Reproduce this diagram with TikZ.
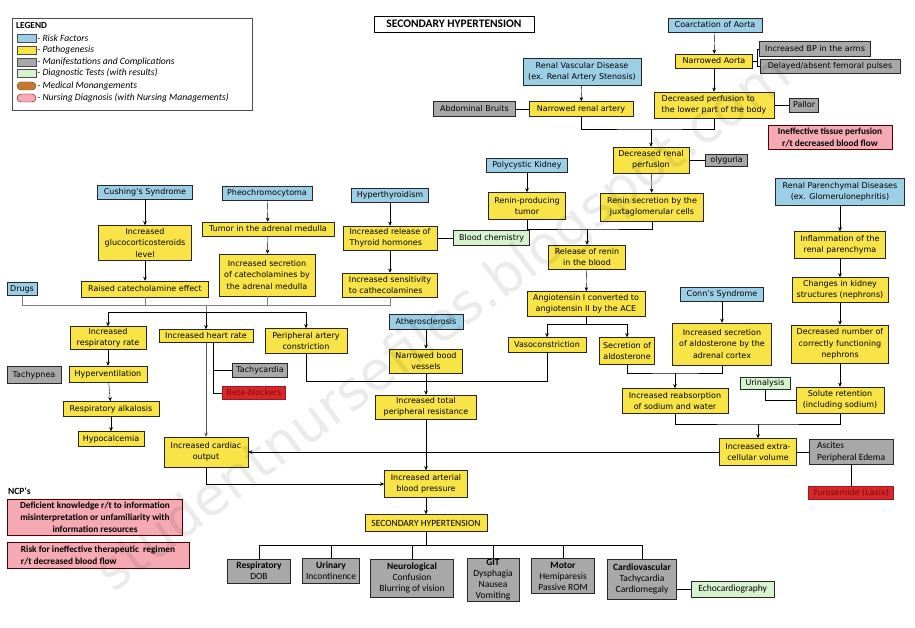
\documentclass[tikz,border=0pt]{standalone}
\usepackage{fontspec}
\setmainfont{DejaVu Sans}
\newfontfamily\calibri{Carlito}
\usepackage{xcolor}
\usepackage{tikz}
\usetikzlibrary{arrows.meta,positioning,shapes.misc}

\definecolor{riskblue}{HTML}{9CCFE6}
\definecolor{pathoyellow}{HTML}{F8E446}
\definecolor{manigray}{HTML}{A8A8A8}
\definecolor{diaggreen}{HTML}{D6F2CF}
\definecolor{medred}{HTML}{D9262A}
\definecolor{medtext}{HTML}{7A0A0A}
\definecolor{medorange}{HTML}{C8772E}
\definecolor{ncppink}{HTML}{F5A9B3}

\begin{document}
\begin{tikzpicture}[x=1pt, y=-1pt, >={Stealth[length=4pt,width=3.6pt]},
    box/.style={rectangle, draw=black!85, line width=0.6pt, inner sep=1pt, align=center, font=\fontsize{8}{11.5}\selectfont, minimum height=14pt},
    risk/.style={box, fill=riskblue},
    patho/.style={box, fill=pathoyellow},
    mani/.style={box, fill=manigray},
    diag/.style={box, fill=diaggreen},
    med/.style={box, fill=medred, draw=medred!70!black, text=medtext},
    ncp/.style={box, fill=ncppink, draw=black!70!red, font=\calibri\bfseries\fontsize{9.3}{12}\selectfont},
    sys/.style={mani, font=\calibri\fontsize{9.5}{11}\selectfont},
    swatch/.style={rectangle, draw=black!70, inner sep=0pt, minimum width=19pt, minimum height=8pt},
    lgtext/.style={anchor=west, inner sep=1pt, font=\calibri\itshape\fontsize{9.6}{11}\selectfont},
    bus/.style={gray, line width=1pt}]

    \path[fill=white, use as bounding box] (0,0) rectangle (915,628);

    % legend
    \node (legend) [draw=black!70, line width=0.8pt, minimum width=240pt, minimum height=92pt] at (132,64) {};
    \node (lgtitle) [anchor=west, inner sep=0pt, font=\calibri\bfseries\fontsize{9.3}{11}\selectfont] at (16,25) {LEGEND};
    \node (lgrisk) [swatch, fill=riskblue] at (26.5,38) {};
    \node (lgpatho) [swatch, fill=pathoyellow] at (26.5,50) {};
    \node (lgmani) [swatch, fill=manigray] at (26.5,62) {};
    \node (lgdiag) [swatch, fill=diaggreen] at (26.5,73) {};
    \node (lgmed) [swatch, rounded rectangle, fill=medorange] at (26.5,86) {};
    \node (lgncp) [swatch, rounded rectangle, fill=ncppink, draw=black!60!red] at (26.5,98) {};
    \node [lgtext] at (lgrisk.east) {- Risk Factors};
    \node [lgtext] at (lgpatho.east) {- Pathogenesis};
    \node [lgtext] at (lgmani.east) {- Manifestations and Complications};
    \node [lgtext] at (lgdiag.east) {- Diagnostic Tests (with results)};
    \node [lgtext] at (lgmed.east) {- Medical Monangements};
    \node [lgtext] at (lgncp.east) {- Nursing Diagnosis (with Nursing Managements)};

    \node (title) [draw, line width=0.9pt, inner sep=1.5pt, minimum width=160pt, minimum height=16pt, font=\calibri\bfseries\fontsize{11.5}{13}\selectfont] at (454,24) {SECONDARY HYPERTENSION};

    % coarctation and renal vascular disease
    \node (coarc) [risk, minimum width=94pt] at (715,25) {Coarctation of Aorta};
    \node (naorta) [patho, minimum width=77pt] at (714,61) {Narrowed Aorta};
    \node (bparms) [mani, minimum width=111pt, minimum height=15pt] at (815,49) {Increased BP in the arms};
    \node (femoral) [mani, minimum width=140pt] at (830,66) {Delayed/absent femoral pulses};
    \node (dperf) [patho, align=left, minimum width=120pt, minimum height=26pt] at (714,105) {Decreased perfusion to\\the lower part of the body};
    \node (pallor) [mani, right=15pt of dperf, minimum width=29pt] {Pallor};
    \node (itp) [ncp, minimum width=124pt, minimum height=24pt] at (830,137) {Ineffective tissue perfusion\\r/t decreased blood flow};
    \node (rvd) [risk, minimum width=118pt, minimum height=27pt] at (582,72) {Renal Vascular Disease\\(ex. Renal Artery Stenosis)};
    \node (nra) [patho, minimum width=104pt, minimum height=15pt] at (581,109) {Narrowed renal artery};
    \node (bruits) [mani, left=13pt of nra, minimum width=82pt, minimum height=15pt] {Abdominal Bruits};
    \node (drp) [patho, minimum width=76pt, minimum height=26pt] at (651,160) {Decreased renal\\perfusion};
    \node (olig) [mani, right=16pt of drp, minimum width=42pt, minimum height=12pt] {olyguria};
    \node (renin) [patho, minimum width=103pt, minimum height=28pt] at (652,207) {Renin secretion by the\\juxtaglomerular cells};
    \node (pkd) [risk, minimum width=81pt] at (527,165) {Polycystic Kidney};
    \node (rpt) [patho, minimum width=77pt, minimum height=27pt] at (527,206) {Renin-producing\\tumor};
    \node (rrb) [patho, minimum width=77pt, minimum height=24pt] at (587,257) {Release of renin\\in the blood};
    \node (ace) [patho, minimum width=118pt, minimum height=25pt] at (586,304) {Angiotensin I converted to\\angiotensin II by the ACE};
    \node (vaso) [patho, minimum width=78pt, minimum height=15pt] at (547,345) {Vasoconstriction};
    \node (secald) [patho, minimum width=55pt, minimum height=27pt] at (627,351) {Secretion of\\aldosterone};
    \node (conn) [risk, minimum width=83pt] at (722,294) {Conn's Syndrome};
    \node (isald) [patho, minimum width=99pt, minimum height=42pt] at (722,344) {Increased secretion\\of aldosterone by the\\adrenal cortex};
    \node (reab) [patho, minimum width=106pt, minimum height=25pt] at (675,401) {Increased reabsorption\\of sodium and water};

    % renal parenchymal diseases
    \node (rpd) [risk, minimum width=129pt, minimum height=27pt] at (840,192) {Renal Parenchymal Diseases\\(ex. Glomerulonephritis)};
    \node (infl) [patho, minimum width=91pt, minimum height=27pt] at (840,245) {Inflammation of the\\renal parenchyma};
    \node (chg) [patho, minimum width=96pt, minimum height=25pt] at (840,290) {Changes in kidney\\structures (nephrons)};
    \node (dnum) [patho, minimum width=97pt, minimum height=38pt] at (840,344) {Decreased number of\\correctly functioning\\nephrons};
    \node (solute) [patho, minimum width=88pt, minimum height=26pt] at (840,400) {Solute retention\\(including sodium)};
    \node (urin) [diag, minimum width=50pt, minimum height=12pt] at (765,383) {Urinalysis};
    \node (ecv) [patho, minimum width=77pt, minimum height=27pt] at (758,452) {Increased extra-\\cellular volume};
    \node (ascites) [mani, right=12pt of ecv, align=left, minimum width=84pt, minimum height=25pt, font=\calibri\fontsize{9.5}{12}\selectfont] {Ascites\\Peripheral Edema};
    \node (furo) [med, below=21pt of ascites, minimum width=85pt, minimum height=13pt] {Furosemide (Lasix)};

    % endocrine causes
    \node (cush) [risk, minimum width=95pt] at (145,192) {Cushing's Syndrome};
    \node (gluco) [patho, minimum width=93pt, minimum height=35pt] at (145,243) {Increased\\glucocorticosteroids\\level};
    \node (raised) [patho, minimum width=127pt, minimum height=16pt] at (145,289) {Raised catecholamine effect};
    \node (pheo) [risk, minimum width=90pt] at (267,193) {Pheochromocytoma};
    \node (tumor) [patho, minimum width=132pt] at (268,229) {Tumor in the adrenal medulla};
    \node (iscat) [patho, minimum width=96pt, minimum height=42pt] at (267,275) {Increased secretion\\of catecholamines by\\the adrenal medulla};
    \node (hyper) [risk, minimum width=77pt] at (390,195) {Hyperthyroidism};
    \node (thyr) [patho, align=left, minimum width=94pt, minimum height=24pt] at (390,238) {Increased release of\\Thyroid hormones};
    \node (bchem) [diag, right=16pt of thyr, minimum width=76pt, minimum height=15pt] {Blood chemistry};
    \node (sens) [patho, align=left, minimum width=95pt, minimum height=24pt] at (390,285) {Increased sensitivity\\to cathecolamines};
    \node (drugs) [risk, minimum width=30pt, minimum height=13pt] at (22,289) {Drugs};

    % effects
    \node (irr) [patho, minimum width=76pt, minimum height=23pt] at (108,338) {Increased\\respiratory rate};
    \node (ihr) [patho, minimum width=94pt, minimum height=13pt] at (206,336) {Increased heart rate};
    \node (pac) [patho, minimum width=82pt, minimum height=25pt] at (306,341) {Peripheral artery\\constriction};
    \node (hypervent) [patho, minimum width=78pt, minimum height=16pt] at (108,374) {Hyperventilation};
    \node (tachyp) [mani, minimum width=54pt, minimum height=17pt] at (34,375) {Tachypnea};
    \node (ralk) [patho, minimum width=96pt, minimum height=15pt] at (111,409) {Respiratory alkalosis};
    \node (hypoca) [patho, minimum width=66pt, minimum height=15pt] at (111,439) {Hypocalcemia};
    \node (tachyc) [mani, minimum width=55pt] at (260,370) {Tachycardia};
    \node (beta) [med, minimum width=63pt, minimum height=13pt] at (254,393) {Beta-blockers};
    \node (athero) [risk, minimum width=74pt, minimum height=15pt] at (426,322) {Atherosclerosis};
    \node (nbv) [patho, minimum width=73pt, minimum height=24pt] at (426,361) {Narrowed bood\\vessels};
    \node (itpr) [patho, minimum width=101pt, minimum height=24pt] at (426,407) {Increased total\\peripheral resistance};
    \node (ico) [patho, minimum width=84pt, minimum height=30pt] at (206,452) {Increased cardiac\\output};
    \node (iabp) [patho, minimum width=83pt, minimum height=27pt] at (426,484) {Increased arterial\\blood pressure};
    \node (shtn) [patho, minimum width=122pt, minimum height=17pt, font=\calibri\fontsize{9.5}{11}\selectfont] at (426,523) {SECONDARY HYPERTENSION};

    % body systems
    \node (resp) [sys, minimum width=63pt, minimum height=24pt] at (259,571) {\textbf{Respiratory}\\DOB};
    \node (urinary) [sys, minimum width=57pt, minimum height=25pt] at (331,571) {\textbf{Urinary}\\Incontinence};
    \node (neuro) [sys, minimum width=83pt, minimum height=38pt] at (412,578) {\textbf{Neurological}\\Confusion\\Blurring of vision};
    \node (gitbox) [sys, minimum width=52pt, minimum height=43pt] at (493,580) {\textbf{GIT}\\Dysphagia\\Nausea\\Vomiting};
    \node (motor) [sys, minimum width=63pt, minimum height=35pt] at (563,576) {\textbf{Motor}\\Hemiparesis\\Passive ROM};
    \node (cardio) [sys, minimum width=69pt, minimum height=40pt] at (642,579) {\textbf{Cardiovascular}\\Tachycardia\\Cardiomegaly};
    \node (echo) [diag, right=14pt of cardio, yshift=-10pt, minimum width=83pt, minimum height=16pt, font=\calibri\fontsize{9.5}{11}\selectfont] {Echocardiography};

    % nursing care plans
    \node (ncplabel) [anchor=west, inner sep=0pt, font=\calibri\bfseries\fontsize{9.5}{11}\selectfont] at (8,491) {NCP's};
    \node (dk) [ncp, minimum width=175pt, minimum height=36pt] at (95,517) {Deficient knowledge r/t to information\\misinterpretation or unfamiliarity with\\information resources};
    \node (rfi) [ncp, align=left, minimum width=182pt, minimum height=26pt] at (98,555) {Risk for ineffective therapeutic\ \ regimen\\r/t decreased blood flow};

    % junctions
    \coordinate (jren) at (651,129);
    \coordinate (jtum) at (587,229);
    \coordinate (jace) at (586,324);
    \coordinate (jald) at (675,373);
    \coordinate (jsod) at (758,424);
    \coordinate (busl) at (22,305);
    \coordinate (busr) at (390,305);
    \coordinate (jeff) at (206,312);
    \coordinate (jres) at (426,381);
    \coordinate (jsys) at (426,545);

    \draw [->] (coarc) -- (naorta);
    \draw [->] (naorta) -- (dperf);
    \draw (naorta.east) -- ++(4,0) coordinate (jarm);
    \draw (bparms.west) -| (jarm) |- (femoral.west);
    \draw (dperf) -- (pallor);
    \draw [->] (rvd) -- (nra);
    \draw (bruits) -- (nra);
    \draw (nra.south) |- (jren) -| (dperf.south);
    \draw [->] (jren) -- (drp);
    \draw (drp) -- (olig);
    \draw [->] (drp) -- (renin);
    \draw [->] (pkd) -- (rpt);
    \draw (rpt.south) |- (jtum) -| (renin.south);
    \draw [->] (jtum) -- (rrb);
    \draw [->] (rrb) -- (ace);
    \draw (ace.south) -- (jace);
    \draw [->] (jace) -| (vaso);
    \draw [->] (jace) -| (secald);
    \draw [->] (conn) -- (isald);
    \draw (secald.south) |- (jald) -| (isald.south);
    \draw [->] (jald) -- (reab);

    \draw [->] (rpd) -- (infl);
    \draw [->] (infl) -- (chg);
    \draw [->] (chg) -- (dnum);
    \draw [->] (dnum) -- (solute);
    \draw (urin.south) |- (solute.west);
    \draw (reab.south) |- (jsod) -| (solute.south);
    \draw [->] (jsod) -- (ecv);
    \draw (ecv) -- (ascites);
    \draw (ascites) -- (furo);
    \draw [->] (ecv.west) -- (ico.east);

    \draw [->] (cush) -- (gluco);
    \draw [->] (gluco) -- (raised);
    \draw [->] (pheo) -- (tumor);
    \draw [->] (tumor) -- (iscat);
    \draw [->] (hyper) -- (thyr);
    \draw [->] (thyr) -- (sens);
    \draw (thyr) -- (bchem);

    \draw [bus] (drugs.south) -- (busl) -- (busr) -- (sens.south);
    \draw [bus] (raised.south) -- (raised.south |- busl);
    \draw [bus] (iscat.south) -- (iscat.south |- busl);
    \draw [bus] (jeff |- busl) -- (jeff);
    \draw [->] (jeff) -| (irr);
    \draw [->] (jeff) -- (ihr);
    \draw [->] (jeff) -| (pac);

    \draw [->] (irr) -- (hypervent);
    \draw [->] (hypervent) -- (ralk);
    \draw [->] (ralk) -- (hypoca);
    \draw [->, gray!70!black] (ihr) -- (ico);
    \draw ([xshift=7pt]ihr.south) |- (tachyc.west);
    \draw ([xshift=7pt]ihr.south) |- (beta.west);

    \draw [->] (athero) -- (nbv);
    \draw (pac.south) |- (jres);
    \draw (vaso.south) |- (jres);
    \draw (nbv) -- (jres);
    \draw [->] (jres) -- (itpr);
    \draw [->] (itpr) -- (iabp);
    \draw [->] (ico.south) |- (iabp.west);
    \draw [->] (iabp) -- (shtn);

    \draw (shtn) -- (jsys);
    \draw (jsys) -| (resp);
    \draw (jsys) -| (urinary);
    \draw (jsys) -| (neuro);
    \draw (jsys) -| (gitbox);
    \draw (jsys) -| (motor);
    \draw (jsys) -| (cardio);
    \draw (echo.west) -- (echo.west -| cardio.east);

    % watermark
    \node (mark) [rotate=37, text=black, opacity=0.08, font=\fontsize{54}{56}\selectfont] at (445,325) {studentnursefiles.blogspot.com};
\end{tikzpicture}
\end{document}
